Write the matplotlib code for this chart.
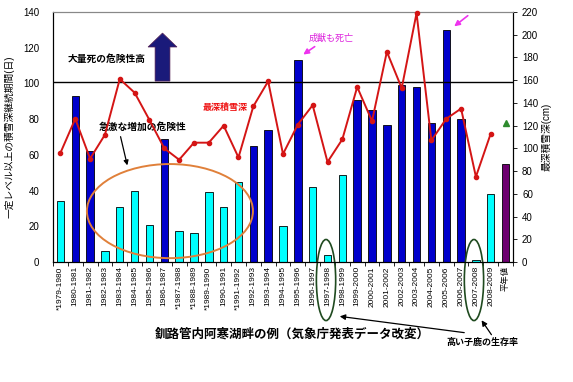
import matplotlib
matplotlib.use("Agg")
import matplotlib.pyplot as plt
from matplotlib.patches import Ellipse, FancyArrow
import numpy as np

plt.rcParams['font.family'] = ['Liberation Sans', 'Noto Sans CJK JP', 'DejaVu Sans']

seasons = ["*1979-1980", "1980-1981", "1981-1982", "1982-1983", "1983-1984", "1984-1985",
           "1985-1986", "1986-1987", "*1987-1988", "*1988-1989", "*1989-1990", "1990-1991",
           "*1991-1992", "1992-1993", "1993-1994", "1994-1995", "1995-1996", "1996-1997",
           "1997-1998", "1998-1999", "1999-2000", "2000-2001", "2001-2002", "2002-2003",
           "2003-2004", "2004-2005", "2005-2006", "2006-2007", "2007-2008", "2008-2009"]
avg_label = "平年値"
duration_days = [34, 93, 62, 6, 31, 40, 21, 69, 17.5, 16, 39, 31, 45, 65, 74, 20, 113,
                 42, 4, 49, 91, 85, 77, 99, 98, 78, 130, 80, 1, 38]
duration_avg = 55
high_flag = [0, 1, 1, 0, 0, 0, 0, 1, 0, 0, 0, 0, 0, 1, 1, 0, 1, 0, 0, 0, 1, 1, 1, 1, 1,
             1, 1, 1, 0, 0]
max_depth_cm = [96, 126, 91, 112, 161, 149, 125, 100, 90, 105, 105, 120, 92, 137, 159,
                95, 121, 138, 88, 108, 154, 124, 185, 153, 219, 107, 126, 135, 75, 113]
max_depth_avg = 122

labels = seasons + [avg_label]
n = len(labels)
x = np.arange(n)

fig = plt.figure(figsize=(5.73, 3.82), dpi=100)
ax = fig.add_axes([53/573, 1-262/382, (513-53)/573, 250/382])
ax2 = ax.twinx()
ax.set_zorder(ax2.get_zorder() - 1)
ax.patch.set_visible(True)
ax2.patch.set_visible(False)

colors = ['#0000CC' if h else '#00FFFF' for h in high_flag] + ['#6E0070']
vals = duration_days + [duration_avg]
ax.bar(x, vals, width=0.5, color=colors, edgecolor='black', linewidth=0.6, zorder=2)

ax.set_xlim(-0.5, n - 0.5)
ax.set_ylim(0, 140)
ax.set_yticks(np.arange(0, 141, 20))
ax.tick_params(axis='y', labelsize=7, length=0, pad=10)
ax.set_xticks(x)
ax.set_xticklabels(labels, rotation=90, fontsize=6)
ax.tick_params(axis='x', length=0, pad=3)
ax.set_xticks(np.arange(-0.5, n, 1), minor=True)
ax.tick_params(axis='x', which='minor', length=3, width=0.6, direction='out')
ax.axhline(101, color='black', linewidth=1, zorder=3)
for s in ['left', 'bottom']:
    ax.spines[s].set_color('black')
ax.spines['top'].set_color('#888888')
ax.set_ylabel("一定レベル以上の積雪深継続期間(日)", fontsize=7, labelpad=6)

ax2.plot(x[:len(max_depth_cm)], max_depth_cm, color='#D41515', linewidth=1.4,
         marker='o', markersize=3, zorder=4, clip_on=False)
ax2.plot([n - 1], [max_depth_avg], marker='^', color='#2E8B2E', markersize=4, linestyle='none')
ax2.set_ylim(0, 220)
ax2.set_yticks(np.arange(0, 221, 20))
ax2.tick_params(axis='y', labelsize=7, length=3, width=0.6)
ax2.spines['top'].set_color('#888888')
ax2.spines['right'].set_color('black')
ax2.set_ylabel("最深積雪深(cm)", fontsize=7, labelpad=2)

# annotations
ax.add_patch(FancyArrow(6.88, 101.3, 0, 26.9, width=1.0, head_width=1.95, head_length=7.8,
                        length_includes_head=True, color='#1A1A7A', ec='#552255', lw=0.5,
                        zorder=5))
ax.text(3.14, 113.7, "大量死の危険性高", fontsize=7, fontweight='bold', ha='center', va='center')
ax.text(5.56, 75.6, "急激な増加の危険性", fontsize=7, fontweight='bold', ha='center', va='center')
ax.annotate("", xy=(4.55, 52.6), xytext=(4.01, 71.7),
            arrowprops=dict(arrowstyle='-|>', color='black', lw=0.9, mutation_scale=7))
ax.text(11.12, 86.8, "最深積雪深", fontsize=6.5, fontweight='bold', color='#EE1111',
        ha='center', va='center')
ax.text(18.23, 125.4, "成獣も死亡", fontsize=6.5, color='#DD22DD', ha='center', va='center')
ax.annotate("", xy=(16.21, 115.3), xytext=(17.29, 121.5),
            arrowprops=dict(arrowstyle='-|>', color='#EE33EE', lw=1.2, mutation_scale=8))
ax.annotate("", xy=(26.39, 131.0), xytext=(27.6, 138.9), annotation_clip=False,
            arrowprops=dict(arrowstyle='-|>', color='#EE33EE', lw=1.2, mutation_scale=8))

ax.add_patch(Ellipse((7.38, 28.5), 11.19, 52.7, fill=False, edgecolor='#E0803A', lw=1.4,
                     zorder=6))
for cx in (17.9, 27.87):
    ax.add_patch(Ellipse((cx, -10.1), 1.3, 45.4, fill=False, edgecolor='#1F4A1F', lw=1.2,
                         zorder=6, clip_on=False))

fig.text(292/573, 1-334/382, "釧路管内阿寒湖畔の例（気象庁発表データ改変）", fontsize=9,
         fontweight='bold', ha='center', va='center')
fig.text(482/573, 1-342/382, "高い子鹿の生存率", fontsize=6.5, fontweight='bold',
         ha='center', va='center')
fig.patches.append(matplotlib.patches.FancyArrowPatch(
    (467/573, 1-333/382), (337/573, 1-316/382), transform=fig.transFigure,
    arrowstyle='-|>', mutation_scale=8, color='black', lw=0.9))
fig.patches.append(matplotlib.patches.FancyArrowPatch(
    (493/573, 1-337/382), (480/573, 1-318/382), transform=fig.transFigure,
    arrowstyle='-|>', mutation_scale=8, color='black', lw=0.9))

fig.savefig("out.png", dpi=100, facecolor='white')
